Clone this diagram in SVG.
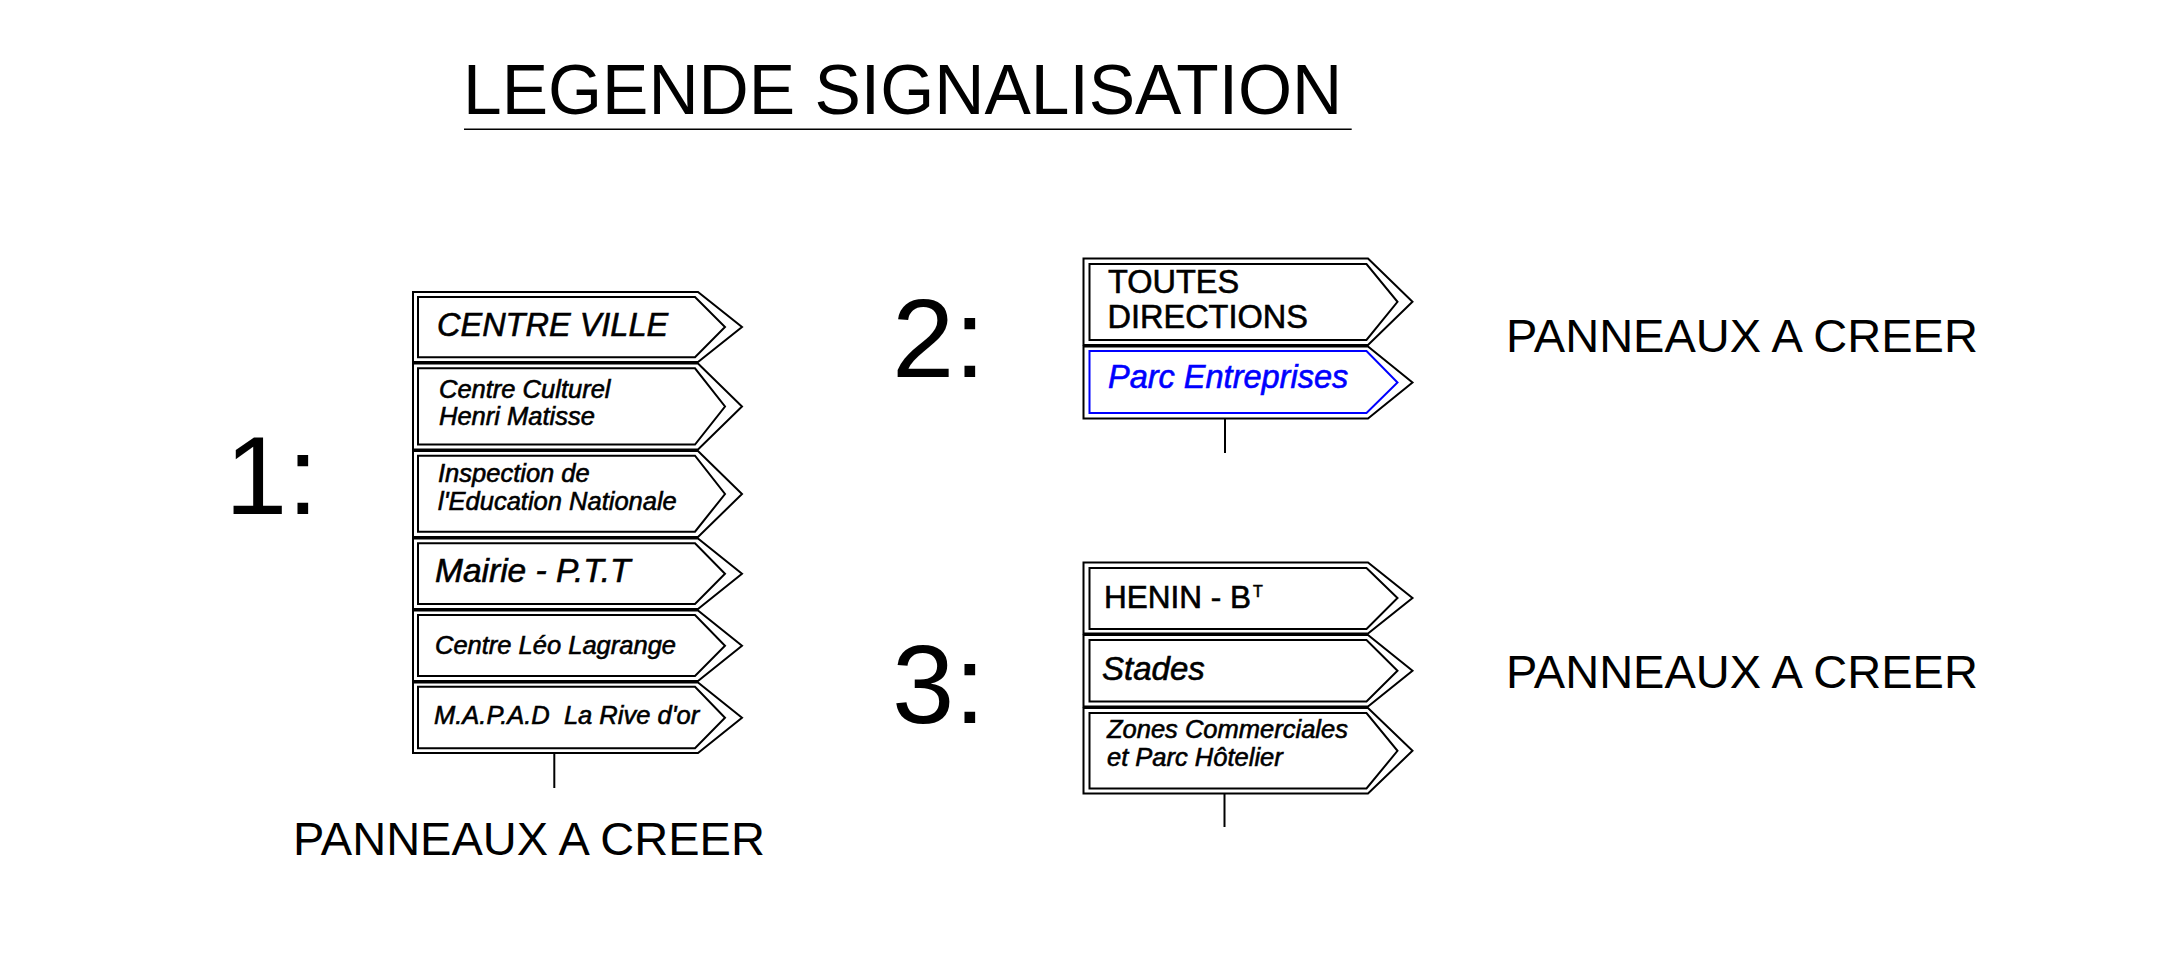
<svg xmlns="http://www.w3.org/2000/svg" width="2175" height="971" viewBox="0 0 2175 971">
<style>
.o{fill:#fff;stroke:#000;stroke-width:2}
.i{fill:none;stroke:#000;stroke-width:2}
.ib{fill:none;stroke:#0000ff;stroke-width:2}
.post{stroke:#000;stroke-width:2}
text{font-family:"Liberation Sans",Arial,sans-serif;fill:#000}
.t{stroke:#000;stroke-width:0.6}
.it{font-style:italic}
.s25{font-size:25.5px}
.s32{font-size:32.5px}
.big{font-size:112px}
.lab{font-size:47px}
</style>
<rect width="2175" height="971" fill="#fff"/>
<g id="title">
<text x="463" y="114" style="font-size:69.5px">LEGENDE SIGNALISATION</text>
<line x1="464" y1="129.3" x2="1351.7" y2="129.3" stroke="#000" stroke-width="1.5"/>
</g>
<g id="labels">
<text class="big" x="225" y="514">1:</text>
<text class="big" x="892" y="377">2:</text>
<text class="big" x="892" y="723">3:</text>
<text class="lab" x="1506" y="351.7">PANNEAUX A CREER</text>
<text class="lab" x="1506" y="688.3">PANNEAUX A CREER</text>
<text class="lab" x="293" y="855">PANNEAUX A CREER</text>
</g>
<g id="connectors">
<line class="post" x1="554.3" y1="753" x2="554.3" y2="788"/>
<line class="post" x1="1225" y1="418.5" x2="1225" y2="453"/>
<line class="post" x1="1224.5" y1="793.5" x2="1224.5" y2="827"/>
</g>
<g id="sign1">
<g id="s1p1">
<polygon class="o" points="413,292 698,292 742,327 698,362 413,362"/>
<polygon class="i" points="418,297 695,297 725,327 695,357.3 418,357.3"/>
<text class="t it s32" x="437" y="336">CENTRE VILLE</text>
</g>
<g id="s1p2">
<polygon class="o" points="413,363.5 698,363.5 742,406.5 698,449.5 413,449.5"/>
<polygon class="i" points="418,368.3 695,368.3 725,406.5 695,444.5 418,444.5"/>
<text class="t it s25" x="439" y="397.5">Centre Culturel</text>
<text class="t it s25" x="439" y="425">Henri Matisse</text>
</g>
<g id="s1p3">
<polygon class="o" points="413,451 698,451 742,494 698,537 413,537"/>
<polygon class="i" points="418,455.7 695,455.7 725,494 695,531.7 418,531.7"/>
<text class="t it s25" x="438" y="481.7">Inspection de</text>
<text class="t it s25" x="438" y="510">l'Education Nationale</text>
</g>
<g id="s1p4">
<polygon class="o" points="413,538.5 698,538.5 742,573.8 698,609 413,609"/>
<polygon class="i" points="418,543.3 695,543.3 725,573.8 695,604 418,604"/>
<text class="t it" style="font-size:33.5px" x="435" y="581.7">Mairie - P.T.T</text>
</g>
<g id="s1p5">
<polygon class="o" points="413,610.5 698,610.5 742,645.8 698,681 413,681"/>
<polygon class="i" points="418,615 695,615 725,645.8 695,676 418,676"/>
<text class="t it s25" x="435" y="654.3">Centre Léo Lagrange</text>
</g>
<g id="s1p6">
<polygon class="o" points="413,682.5 698,682.5 742,717.8 698,753 413,753"/>
<polygon class="i" points="418,686.7 695,686.7 725,717.8 695,748.3 418,748.3"/>
<text class="t it s25" x="434" y="724.3" xml:space="preserve">M.A.P.A.D  La Rive d'or</text>
</g>
</g>
<g id="sign2">
<g id="s2p1">
<polygon class="o" points="1083.5,258.5 1368,258.5 1412.5,301.8 1368,345 1083.5,345"/>
<polygon class="i" points="1089.5,264 1366.5,264 1397.5,301.8 1366.5,340 1089.5,340"/>
<text class="t s32" x="1108" y="293.3">TOUTES</text>
<text class="t s32" x="1107.5" y="328.3">DIRECTIONS</text>
</g>
<g id="s2p2">
<polygon class="o" points="1083.5,346.5 1368,346.5 1412.5,382.5 1368,418.5 1083.5,418.5"/>
<polygon class="ib" points="1089.5,351 1366.5,351 1397.5,382.5 1366.5,413 1089.5,413"/>
<text class="it" style="font-size:32.5px;fill:#0000ff;stroke:#0000ff;stroke-width:0.6" x="1108" y="388.3">Parc Entreprises</text>
</g>
</g>
<g id="sign3">
<g id="s3p1">
<polygon class="o" points="1083.5,562.5 1368,562.5 1412.5,598 1368,633.5 1083.5,633.5"/>
<polygon class="i" points="1089.5,568 1366.5,568 1397.5,598 1366.5,629 1089.5,629"/>
<text class="t" style="font-size:31.5px" x="1104" y="608.3">HENIN - B</text>
<text class="t" style="font-size:16px" x="1253" y="596.7">T</text>
</g>
<g id="s3p2">
<polygon class="o" points="1083.5,635 1368,635 1412.5,670.8 1368,706.5 1083.5,706.5"/>
<polygon class="i" points="1089.5,640 1366.5,640 1397.5,670.8 1366.5,701.5 1089.5,701.5"/>
<text class="t it" style="font-size:33px" x="1102" y="680">Stades</text>
</g>
<g id="s3p3">
<polygon class="o" points="1083.5,708 1368,708 1412.5,750.8 1368,793.5 1083.5,793.5"/>
<polygon class="i" points="1089.5,713 1366.5,713 1397.5,750.8 1366.5,788.5 1089.5,788.5"/>
<text class="t it s25" x="1107" y="738.3">Zones Commerciales</text>
<text class="t it s25" x="1107" y="766">et Parc Hôtelier</text>
</g>
</g>
</svg>
